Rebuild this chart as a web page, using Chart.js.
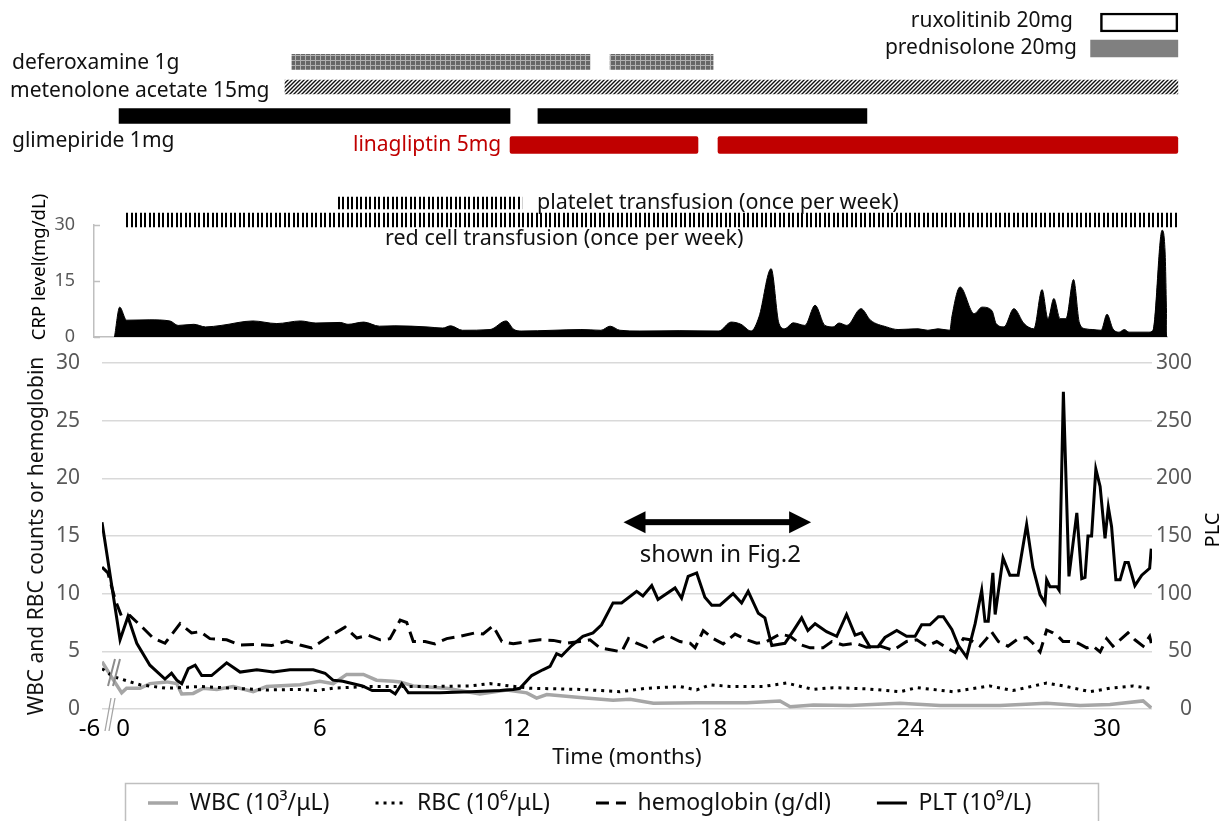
<!DOCTYPE html>
<html><head><meta charset="utf-8">
<script src="https://cdn.jsdelivr.net/npm/chart.js@4.4.1/dist/chart.umd.min.js"></script>
<style>
html,body{margin:0;padding:0;background:#fff;}
#wrap{position:relative;width:1224px;height:821px;overflow:hidden;background:#fff;}
canvas{position:absolute;left:0;}
#cTreat{top:0;} #cCrp{top:190px;} #cMain{top:340px;}
</style></head><body>
<div id="wrap">
<canvas id="cTreat" width="1224" height="250"></canvas>
<canvas id="cCrp" width="1224" height="160"></canvas>
<canvas id="cMain" width="1224" height="600"></canvas>
</div>
<script>
// ---------------- DATA (time in months) ----------------
const treatNames = ['ruxolitinib 20mg','prednisolone 20mg','deferoxamine 1g','metenolone acetate 15mg',
  'glimepiride 1mg','linagliptin 5mg','platelet transfusion (once per week)','red cell transfusion (once per week)'];
const treatPeriods = [
  [[29.8, 32.16]],
  [[29.5, 32.16]],
  [[5.15, 14.24], [14.85, 17.99]],
  [[4.94, 32.16]],
  [[-0.12, 11.8], [12.65, 22.68]],
  [[11.8, 17.53], [18.14, 32.16]],
  [[6.52, 12.16]],
  [[0.06, 32.16]]
];

// CRP (mg/dL)
const crpMonths = [-0.26,-0.10,0.11,0.82,1.43,1.68,2.16,2.52,2.99,3.96,
  4.69,5.41,5.88,6.62,6.86,7.34,7.82,8.29,9.27,9.75,
  9.99,10.35,11.19,11.68,11.92,12.16,13.11,13.96,14.57,14.85,
  15.15,15.76,16.98,18.17,18.54,18.84,19.15,19.39,19.76,20.00,
  20.18,20.43,20.79,21.10,21.40,21.65,21.83,22.07,22.50,22.79,
  23.28,23.63,24.24,24.54,24.85,25.21,25.27,25.52,25.95,26.19,
  26.49,26.62,26.86,27.16,27.47,27.77,28.02,28.20,28.38,28.57,
  28.75,28.98,29.16,29.34,29.57,29.82,30.00,30.18,30.37,30.53,
  30.67,31.28,31.40,31.68,31.77,31.83];
const crpValues = [0,8.0,4.5,4.6,4.3,3.1,3.4,2.7,3.1,4.3,
  3.6,4.3,3.75,3.9,3.4,4.0,2.9,3.0,2.7,2.4,
  3.0,1.8,2.0,4.3,2.0,1.6,1.8,2.0,1.8,2.9,
  1.8,1.6,1.7,1.6,4.0,3.4,1.6,5.4,18.3,3.6,
  2.2,3.8,3.1,8.5,3.1,2.7,3.75,3.1,7.6,4.5,
  2.7,2.0,2.2,1.8,2.2,1.8,5.4,13.4,6.25,8.0,
  7.1,3.6,2.7,7.6,3.6,2.2,12.7,4.9,10.3,4.9,
  4.9,15.4,3.75,2.2,2.0,1.8,6.1,2.2,1.3,2.0,
  1.3,1.3,1.8,28.6,23,0];

// PLT (10^9/L) – right axis
const pltMonths = [-6,-0.09,0.15,0.42,0.82,1.28,1.48,1.64,1.79,1.99,
  2.2,2.4,2.7,3.16,3.57,4.08,4.58,5.09,5.8,6.16,
  6.4,6.7,7.3,7.6,8.14,8.3,8.5,8.7,9.66,10.6,
  11.5,11.9,12.1,12.46,12.8,13.02,13.22,13.37,13.68,14.02,
  14.33,14.59,14.94,15.2,15.66,15.85,16.12,16.31,16.83,17.03,
  17.23,17.49,17.74,17.95,18.2,18.6,18.86,19.06,19.37,19.57,
  19.78,20.18,20.44,20.69,20.88,21.1,21.45,21.76,22.06,22.32,
  22.52,22.77,23.02,23.23,23.59,23.89,24.15,24.35,24.6,24.86,
  25.01,25.27,25.47,25.72,25.98,26.18,26.28,26.38,26.52,26.59,
  26.83,27.04,27.29,27.55,27.74,27.96,28.11,28.16,28.26,28.47,
  28.54,28.67,28.84,29.08,29.23,29.33,29.42,29.53,29.66,29.79,
  29.94,30.04,30.14,30.27,30.4,30.55,30.65,30.85,31.06,31.3,
  31.35];
const pltValues = [162,60,80,57,38,26,31,25,22,35,
  38,29,29,40,32,34,32,34,34,31,
  25,24,20,16,16,13,22,14,14,15,
  16,17,18,29,34,37,48,46,55,63,
  66,73,92,92,102,98,107,95,105,96,
  115,118,97,90,90,100,92,102,83,79,
  55,57,68,79,68,74,67,63,82,64,
  66,54,54,62,68,63,63,73,73,80,
  80,69,55,45,74,103,76,76,118,82,
  131,116,116,160,123,99,92,112,106,106,
  103,275,115,170,113,114,150,150,208,193,
  148,175,158,112,112,127,127,107,116,122,
  139];

// hemoglobin (g/dl)
const hbMonths = [-6,-0.46,-0.24,-0.04,0.21,0.62,0.92,1.28,1.74,2.09,
  2.35,2.65,3.16,3.57,4.08,4.53,4.99,5.4,5.75,6.21,
  6.77,7.13,7.48,7.84,8.14,8.45,8.65,8.85,9.21,9.51,
  9.87,10.27,10.73,10.98,11.28,11.55,11.9,12.31,12.71,13.12,
  13.53,13.93,14.24,14.54,14.94,15.2,15.41,15.66,15.97,16.27,
  16.58,16.98,17.29,17.44,17.69,18.0,18.3,18.66,19.02,19.32,
  19.62,20.03,20.34,20.69,20.95,21.34,21.61,21.95,22.32,22.67,
  23.08,23.48,23.89,24.2,24.5,24.81,25.11,25.37,25.62,25.82,
  26.13,26.33,26.48,26.69,26.98,27.25,27.55,27.74,27.96,28.16,
  28.35,28.51,28.66,28.87,29.12,29.38,29.57,29.79,29.99,30.18,
  30.4,30.64,30.85,31.1,31.3,31.35];
const hbValues = [12.3,11.8,9.5,8.0,8.1,7.0,6.15,5.7,7.4,6.6,
  6.7,6.1,6.0,5.55,5.6,5.5,5.9,5.55,5.3,6.15,
  7.1,6.15,6.4,6.0,6.1,7.7,7.5,5.85,5.85,5.65,
  6.1,6.3,6.6,6.5,7.2,5.85,5.65,5.85,6.0,5.95,
  5.7,5.85,6.0,5.3,5.1,4.95,6.1,5.7,5.35,6.0,
  6.4,5.85,5.7,5.3,6.8,6.1,5.65,6.5,6.0,5.7,
  5.85,6.5,6.3,5.55,5.3,5.3,5.85,5.55,5.7,5.35,
  5.45,5.1,5.85,6.0,5.45,5.85,5.3,4.9,6.1,6.0,
  5.45,6.1,6.7,5.85,5.45,6.0,6.2,5.7,4.95,6.85,
  6.6,6.3,5.85,5.85,5.7,5.3,5.45,4.95,6.1,5.45,
  6.0,6.6,6.0,5.45,6.3,5.7];

// RBC (10^6/uL)
const rbcMonths = [-6,-0.29,0.11,0.52,1.33,2.35,3.35,4.38,5.4,5.9,
  6.4,7.43,8.23,9.36,10.58,11.19,11.8,12.41,13.93,15.15,
  15.97,16.98,17.49,17.9,18.5,19.51,20.23,21.04,21.65,22.67,
  23.69,24.2,25.31,26.43,27.13,28.16,28.77,29.48,30.09,30.79,
  31.3,31.35];
const rbcValues = [3.5,2.8,2.45,2.1,1.8,1.95,1.8,1.65,1.7,1.6,
  1.8,1.95,1.95,1.95,2.0,2.2,2.0,1.8,1.7,1.5,
  1.8,1.95,1.65,2.1,1.95,1.95,2.25,1.7,1.85,1.75,
  1.5,1.85,1.5,2.0,1.6,2.25,1.95,1.5,1.8,2.0,
  1.8,1.8];

// WBC (10^3/uL)
const wbcMonths = [-6,-0.4,-0.04,0.11,0.52,0.82,1.33,1.64,1.79,2.14,
  2.45,2.86,3.36,3.97,4.38,5.4,6.0,6.41,6.82,7.33,
  7.73,8.24,8.45,8.85,9.87,10.88,11.7,12.31,12.61,12.92,
  13.93,14.94,15.46,16.17,17.49,19.02,20.03,20.34,21.05,22.16,
  23.69,24.91,26.74,28.16,29.18,30.09,31.1,31.35];
const wbcValues = [4.1,3.0,1.4,1.8,1.8,2.2,2.35,2.2,1.3,1.35,
  1.8,1.7,1.95,1.5,1.95,2.1,2.4,2.2,3.0,3.0,
  2.5,2.4,2.35,2.0,1.8,1.3,1.65,1.4,0.95,1.25,
  1.0,0.75,0.85,0.5,0.55,0.55,0.7,0.2,0.35,0.3,
  0.5,0.3,0.3,0.5,0.3,0.4,0.7,0.1];

const xTickMonths = [-6, 0, 6, 12, 18, 24, 30];
const xTickLabels = ['-6    ', '0', '6', '12', '18', '24', '30'];
const leftTickStep = 5, rightTickStep = 50, crpTickStep = 15;
const fig2Span = [15.26, 20.98], fig2Level = 16.2;

// ---------------- LAYOUT ----------------
const PX0 = 123, PPM = 32.8;               // pixel of month 0, pixels per month
const monthAt = px => (px - PX0) / PPM;
const MAIN_L = 102, MAIN_R = 1152, RIGHT_LABEL_EDGE = 1192;
const X_MIN = monthAt(MAIN_L), X_MAX = monthAt(MAIN_R);
const xPos = t => (t <= -6 ? X_MIN : t);  // axis break: -6 drawn at the left edge
const FONT = "'Noto Sans', 'DejaVu Sans', sans-serif";

Chart.defaults.font.family = FONT;
Chart.defaults.color = '#000';
Chart.defaults.animation = false;

// keep the plot area at the wanted place by correcting layout padding
function pinArea(chart, top, bottom) {
  for (let k = 0; k < 5; k++) {
    const ca = chart.chartArea, p = chart.options.layout.padding;
    const dt = top - ca.top, db = ca.bottom - bottom;
    if (Math.abs(dt) < 0.3 && Math.abs(db) < 0.3) break;
    p.top += dt; p.bottom += db;
    chart.update('none');
  }
}

// ---------------- patterns ----------------
function pattern(ctx, w, h, draw) {
  const c = document.createElement('canvas'); c.width = w; c.height = h;
  draw(c.getContext('2d'), w, h);
  return ctx.createPattern(c, 'repeat');
}
const tctx = document.getElementById('cTreat').getContext('2d');
const checker = pattern(tctx, 5, 5, (g) => {
  g.fillStyle = '#666666'; g.fillRect(0, 0, 5, 5);
  g.fillStyle = '#b0b0b0'; g.fillRect(0, 0, 5, 1); g.fillRect(0, 0, 1, 5);
});
const hatch = pattern(tctx, 4, 4, (g) => {
  g.fillStyle = '#fff'; g.fillRect(0, 0, 4, 4);
  g.strokeStyle = '#111'; g.lineWidth = 1.4;
  g.beginPath(); g.moveTo(-1, 5); g.lineTo(5, -1); g.moveTo(-1, 1); g.lineTo(1, -1); g.moveTo(3, 5); g.lineTo(5, 3); g.stroke();
});
const stripes = pattern(tctx, 9, 4, (g) => {
  g.fillStyle = '#000'; g.fillRect(0, 0, 2, 4); g.fillRect(5, 0, 2, 4);
});

// ---------------- text helper plugin ----------------
function textPlugin(id, items) {
  return { id, afterDraw(chart) {
    const ctx = chart.ctx; ctx.save();
    items.forEach(t => {
      ctx.font = (t.size || 21) + 'px ' + FONT;
      ctx.fillStyle = t.color || '#111';
      ctx.textAlign = t.align || 'left';
      ctx.textBaseline = t.rot ? 'middle' : 'alphabetic';
      if (t.rot) { ctx.save(); ctx.translate(t.x, t.y); ctx.rotate(t.rot); ctx.fillText(t.text, 0, 0); ctx.restore(); }
      else ctx.fillText(t.text, t.x, t.y);
    });
    ctx.restore();
  }};
}

// ---------------- treatment panel ----------------
const rowY = [22.5, 48.5, 61.8, 87, 116, 145, 203, 220];
const rowH = [19, 17, 15, 14, 15, 17, 12, 14];
const rowFill = ['#ffffff', '#808080', checker, hatch, '#000000', '#c00000', stripes, stripes];
const rowBorder = [2.5, 0, 0, 0, 0, 0, 0, 0];
const treatChart = new Chart(document.getElementById('cTreat'), {
  type: 'bar',
  data: { datasets: treatNames.map((name, i) => ({
    label: name,
    data: treatPeriods[i].map(p => ({ x: p, y: rowY[i] })),
    backgroundColor: rowFill[i], borderColor: '#000', borderWidth: rowBorder[i],
    borderSkipped: false, borderRadius: i === 5 ? 2 : 0,
    barThickness: rowH[i], grouped: false
  })) },
  options: {
    responsive: false, indexAxis: 'y',
    layout: { padding: { left: 94, right: 44, top: 0, bottom: 0 } },
    scales: {
      x: { type: 'linear', min: monthAt(94), max: monthAt(1180), display: false, offset: false },
      y: { type: 'linear', min: 0, max: 250, reverse: true, display: false, offset: false }
    },
    plugins: { legend: { display: false }, tooltip: { enabled: false } }
  },
  plugins: [textPlugin('treatText', [
    { text: treatNames[0], x: 1073, y: 27, align: 'right' },
    { text: treatNames[1], x: 1077, y: 54, align: 'right' },
    { text: treatNames[2], x: 12, y: 68.5 },
    { text: treatNames[3], x: 10, y: 96.5 },
    { text: treatNames[4], x: 12, y: 146.5 },
    { text: treatNames[5], x: 353, y: 151, color: '#c00000' },
    { text: treatNames[6], x: 537, y: 209, size: 21.5 },
    { text: treatNames[7], x: 385, y: 245, size: 21.5 }
  ])]
});
pinArea(treatChart, 0, 250);

// ---------------- CRP panel ----------------
const crpDecor = {
  id: 'crpDecor',
  afterDraw(chart) {
    const { ctx, scales: { y }, chartArea } = chart;
    ctx.save(); ctx.strokeStyle = '#bfbfbf'; ctx.lineWidth = 1.5;
    y.ticks.forEach(t => {
      const py = Math.round(y.getPixelForValue(t.value)) + 0.5;
      ctx.beginPath(); ctx.moveTo(chartArea.left, py); ctx.lineTo(chartArea.left + 6, py); ctx.stroke();
    });
    ctx.restore();
  }
};
const crpChart = new Chart(document.getElementById('cCrp'), {
  type: 'line',
  data: { datasets: [{
    label: 'CRP', data: crpMonths.map((m, i) => ({ x: m, y: crpValues[i] })),
    borderColor: '#000', backgroundColor: '#000', borderWidth: 1, fill: 'origin',
    pointRadius: 0, cubicInterpolationMode: 'monotone'
  }] },
  options: {
    responsive: false,
    layout: { padding: { left: 0, right: 57, top: 35, bottom: 13 } },
    scales: {
      x: { type: 'linear', min: monthAt(94), max: monthAt(1167),
           ticks: { display: false }, grid: { display: false, drawTicks: false },
           border: { display: true, color: '#bfbfbf', width: 1.5 }, afterFit: s => { s.height = 0; } },
      y: { min: 0, max: 30, ticks: { stepSize: crpTickStep, padding: 0, font: { size: 18 }, color: '#595959' },
           grid: { drawOnChartArea: false, drawTicks: true, tickLength: 19, tickColor: 'rgba(0,0,0,0)' },
           border: { display: true, color: '#bfbfbf', width: 1.5 }, afterFit: s => { s.width = 94; } }
    },
    plugins: { legend: { display: false }, tooltip: { enabled: false } }
  },
  plugins: [crpDecor, textPlugin('crpText', [
    { text: 'CRP level(mg/dL)', x: 40, y: 77, align: 'center', rot: -Math.PI / 2, size: 18.5, color: '#000' }
  ])]
});
pinArea(crpChart, 35, 147);

// ---------------- main panel ----------------
const LEG_X = 148, LEG_Y = 803, LEG_PAD = 46, LEG_FS = 23, TOP = 340;
const mainDecor = {
  id: 'mainDecor',
  afterLayout(chart) {
    const lg = chart.legend;
    lg.left = LEG_X - LEG_PAD;
    lg.right = 1224;
    lg.top = LEG_Y - TOP - LEG_PAD - LEG_FS / 2;
  },
  afterDraw(chart) {
    const { ctx, scales: { x, y } } = chart;
    ctx.save();
    // legend frame
    ctx.strokeStyle = '#bfbfbf'; ctx.lineWidth = 1.5;
    ctx.strokeRect(125.5, 783.5 - TOP, 973, 70);
    // axis-break marks
    ctx.strokeStyle = '#8c8c8c'; ctx.lineWidth = 2;
    ctx.beginPath();
    ctx.moveTo(108, 686 - TOP); ctx.lineTo(115, 659 - TOP);
    ctx.moveTo(113, 686 - TOP); ctx.lineTo(120, 659 - TOP);
    ctx.stroke();
    ctx.strokeStyle = '#a6a6a6'; ctx.lineWidth = 1.3;
    ctx.beginPath();
    ctx.moveTo(105, 731 - TOP); ctx.lineTo(111, 698 - TOP);
    ctx.moveTo(109, 731 - TOP); ctx.lineTo(115, 698 - TOP);
    ctx.stroke();
    // double arrow "shown in Fig.2"
    const x1 = x.getPixelForValue(fig2Span[0]), x2 = x.getPixelForValue(fig2Span[1]);
    const ya = y.getPixelForValue(fig2Level);
    const head = 22, hh = 11, th = 6;
    ctx.fillStyle = '#000';
    ctx.fillRect(x1 + head - 1, ya - th / 2, (x2 - x1) - 2 * head + 2, th);
    ctx.beginPath(); ctx.moveTo(x1, ya); ctx.lineTo(x1 + head, ya - hh); ctx.lineTo(x1 + head, ya + hh); ctx.closePath(); ctx.fill();
    ctx.beginPath(); ctx.moveTo(x2, ya); ctx.lineTo(x2 - head, ya - hh); ctx.lineTo(x2 - head, ya + hh); ctx.closePath(); ctx.fill();
    ctx.font = '24px ' + FONT; ctx.textAlign = 'center'; ctx.textBaseline = 'alphabetic'; ctx.fillStyle = '#111';
    ctx.fillText('shown in Fig.2', (x1 + x2) / 2 + 3, ya + 40);
    // right axis title
    ctx.save(); ctx.translate(1213, 530 - TOP); ctx.rotate(-Math.PI / 2);
    ctx.font = '20px ' + FONT; ctx.textAlign = 'center'; ctx.textBaseline = 'middle'; ctx.fillStyle = '#000';
    ctx.fillText('PLC', 0, 0); ctx.restore();
    ctx.restore();
  }
};
const pts = (ms, vs) => ms.map((m, i) => ({ x: xPos(m), y: vs[i] }));
const mainChart = new Chart(document.getElementById('cMain'), {
  type: 'line',
  data: { datasets: [
    { label: 'WBC (10³/μL)', data: pts(wbcMonths, wbcValues), borderColor: '#a6a6a6', borderWidth: 3.5, yAxisID: 'y', order: 3 },
    { label: 'RBC (10⁶/μL)', data: pts(rbcMonths, rbcValues), borderColor: '#000', borderWidth: 3, borderDash: [3, 5], yAxisID: 'y', order: 2 },
    { label: 'hemoglobin (g/dl)', data: pts(hbMonths, hbValues), borderColor: '#000', borderWidth: 3, borderDash: [13, 7], yAxisID: 'y', order: 1 },
    { label: 'PLT (10⁹/L)', data: pts(pltMonths, pltValues), borderColor: '#000', borderWidth: 3, yAxisID: 'y2', order: 0 }
  ] },
  options: {
    responsive: false,
    elements: { point: { radius: 0 }, line: { tension: 0, fill: false } },
    layout: { padding: { top: 23, left: 0, right: 1224 - RIGHT_LABEL_EDGE, bottom: 0 } },
    scales: {
      x: { type: 'linear', min: X_MIN, max: X_MAX,
           afterBuildTicks: s => { s.ticks = xTickMonths.map(v => ({ value: xPos(v) })); },
           ticks: { autoSkip: false, maxRotation: 0, minRotation: 0, padding: 6, font: { size: 24 }, color: '#000',
                    callback: (v, i) => xTickLabels[i] },
           grid: { display: false, drawTicks: false }, border: { display: false },
           title: { display: true, text: 'Time (months)', font: { size: 22 }, color: '#111', padding: { top: 0, bottom: 8 } },
           afterFit: s => { s.height = 70; } },
      y: { position: 'left', min: 0, max: 30,
           ticks: { stepSize: leftTickStep, padding: 0, font: { size: 21 }, color: '#595959' },
           grid: { color: '#d9d9d9', lineWidth: 1.5, drawTicks: true, tickLength: 22, tickColor: 'rgba(0,0,0,0)' },
           border: { display: false },
           title: { display: true, text: 'WBC and RBC counts or hemoglobin', font: { size: 21 }, color: '#111', padding: { top: 24, bottom: 0 } },
           afterFit: s => { s.width = MAIN_L; } },
      y2: { position: 'right', min: 0, max: 300,
            ticks: { stepSize: rightTickStep, padding: 3, crossAlign: 'far', font: { size: 21 }, color: '#595959' },
            grid: { display: false, drawTicks: false }, border: { display: false },
            afterFit: s => { s.width = RIGHT_LABEL_EDGE - MAIN_R; } }
    },
    plugins: {
      tooltip: { enabled: false },
      legend: { position: 'bottom', align: 'start',
        labels: { usePointStyle: true, pointStyle: 'line', pointStyleWidth: 30, padding: LEG_PAD,
                  font: { size: LEG_FS }, color: '#111',
                  generateLabels: chart => chart.data.datasets.map((ds, i) => ({
                    text: ds.label, fillStyle: ds.borderColor, strokeStyle: ds.borderColor,
                    lineWidth: ds.borderWidth, lineDash: ds.borderDash || [], pointStyle: 'line',
                    hidden: false, datasetIndex: i, fontColor: '#111' })) } }
    }
  },
  plugins: [mainDecor]
});
pinArea(mainChart, 363 - TOP, 709 - TOP);
</script>
</body></html>
